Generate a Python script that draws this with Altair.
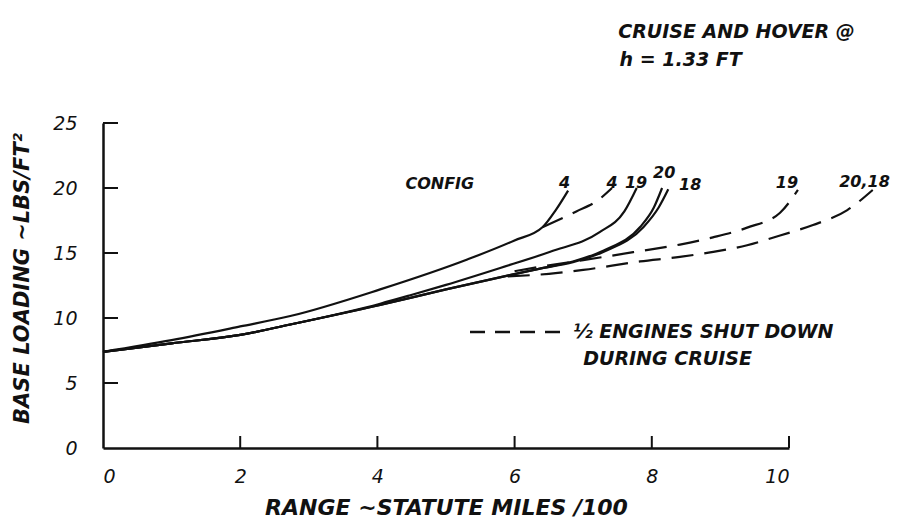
import altair as alt
import pandas as pd

# ---- data ----
x_ticks = [0, 2, 4, 6, 8, 10]
y_ticks = [0, 5, 10, 15, 20, 25]

c4_x = [0, 1.0, 2.0, 2.73, 4.04, 5.31, 5.99, 6.41, 6.6, 6.78]
c4_y = [7.4, 8.3, 9.35, 10.15, 12.2, 14.5, 15.95, 17.0, 18.3, 19.8]

c4d_x = [6.41, 6.9, 7.2, 7.42]
c4d_y = [17.0, 18.2, 19.0, 20.0]

c19_x = [0, 1.0, 2.0, 2.73, 4.04, 4.48, 5.0, 5.79, 6.52, 7.24, 7.6, 7.78]
c19_y = [7.4, 8.05, 8.7, 9.5, 11.1, 11.75, 12.55, 13.85, 15.1, 16.6, 18.2, 20.0]

c20_x = [0, 1.0, 2.0, 2.73, 4.04, 5.0, 5.93, 6.37, 6.85, 7.3, 7.83, 8.03, 8.15]
c20_y = [7.4, 8.05, 8.7, 9.5, 11.0, 12.2, 13.3, 13.8, 14.35, 15.2, 17.0, 18.5, 20.0]

c18_x = [0, 1.0, 2.0, 2.73, 4.04, 5.0, 5.93, 6.37, 6.85, 7.3, 7.88, 8.1, 8.24]
c18_y = [7.4, 8.05, 8.7, 9.5, 11.0, 12.2, 13.3, 13.8, 14.3, 15.1, 17.0, 18.5, 19.9]

c19d_x = [6.0, 6.5, 7.0, 7.83, 8.41, 8.89, 9.39, 9.87, 10.13]
c19d_y = [13.6, 14.05, 14.45, 15.15, 15.65, 16.2, 16.95, 18.1, 19.85]

c2018d_x = [5.9, 6.5, 7.0, 7.83, 8.41, 8.85, 9.39, 9.87, 10.35, 10.85, 11.22]
c2018d_y = [13.2, 13.4, 13.7, 14.35, 14.7, 15.05, 15.6, 16.35, 17.15, 18.3, 19.85]

curve_labels = ["CONFIG", "4", "4", "19", "20", "18", "19", "20,18"]
label_x = [4.91, 6.73, 7.42, 7.77, 8.18, 8.56, 9.97, 11.1]
label_y = [20.3, 20.4, 20.4, 20.4, 21.15, 20.2, 20.4, 20.45]

# ---- build tables ----
series = [
    ("4", "solid", c4_x, c4_y),
    ("19", "solid", c19_x, c19_y),
    ("20", "solid", c20_x, c20_y),
    ("18", "solid", c18_x, c18_y),
    ("4d", "dashed", c4d_x, c4d_y),
    ("19d", "dashed", c19d_x, c19d_y),
    ("2018d", "dashed", c2018d_x, c2018d_y),
]
rows = []
for name, style, xs, ys in series:
    for i, (xv, yv) in enumerate(zip(xs, ys)):
        rows.append({"series": name, "style": style, "x": xv, "y": yv, "order": i})
df = pd.DataFrame(rows)

FONT = "DejaVu Sans"
INK = "#111111"

xscale = alt.Scale(domain=[0, 10], nice=False, zero=False)
yscale = alt.Scale(domain=[0, 25], nice=False, zero=False)

xaxis = alt.Axis(
    values=x_ticks, title="RANGE ~STATUTE MILES /100", grid=False, tickSize=0,
    domainColor=INK, domainWidth=2.5, labelFont=FONT, labelFontSize=19,
    labelFontStyle="italic", labelColor=INK, labelPadding=19,
    titleFont=FONT, titleFontSize=22, titleFontStyle="italic", titleFontWeight="bold",
    titleColor=INK, titleY=59, titleBaseline="middle",
)
yaxis = alt.Axis(
    values=y_ticks, title="BASE LOADING ~LBS/FT²", grid=False, tickSize=0,
    domainColor=INK, domainWidth=2.5, labelFont=FONT, labelFontSize=19,
    labelFontStyle="italic", labelColor=INK, labelPadding=26,
    titleFont=FONT, titleFontSize=21, titleFontStyle="italic", titleFontWeight="bold",
    titleColor=INK, titleX=-81, titleY=155, titleAngle=270, titleAlign="center",
    titleBaseline="middle",
)

X = alt.X("x:Q", scale=xscale, axis=xaxis)
Y = alt.Y("y:Q", scale=yscale, axis=yaxis)

solid = alt.Chart(df).transform_filter(alt.datum.style == "solid").mark_line(
    color=INK, strokeWidth=2.2, interpolate="monotone"
).encode(x=X, y=Y, detail="series:N", order="order:Q")

dashed = alt.Chart(df).transform_filter(alt.datum.style == "dashed").mark_line(
    color=INK, strokeWidth=2.2, interpolate="monotone", strokeDash=[22, 11]
).encode(x=X, y=Y, detail="series:N", order="order:Q")

xt = pd.DataFrame({"x": x_ticks[1:]})
xtick_marks = alt.Chart(xt).mark_rule(color=INK, strokeWidth=2).encode(
    x=X, y=alt.value(325), y2=alt.value(313)
)
yt = pd.DataFrame({"y": y_ticks[1:]})
ytick_marks = alt.Chart(yt).mark_rule(color=INK, strokeWidth=2).encode(
    y=Y, x=alt.value(0), x2=alt.value(15)
)

lab = pd.DataFrame({"x": label_x, "y": label_y, "text": curve_labels})
lab_marks = alt.Chart(lab).mark_text(
    font=FONT, fontSize=16, fontStyle="italic", fontWeight="bold", color=INK,
    align="center", baseline="middle"
).encode(x=X, y=Y, text="text:N")

# legend for the dashed lines
leg_line = pd.DataFrame({"x": [5.35], "x2": [6.78], "y": [8.92]})
leg_rule = alt.Chart(leg_line).mark_rule(color=INK, strokeWidth=2.4, strokeDash=[15, 10]).encode(
    x=X, x2="x2:Q", y=Y
)
leg_txt = pd.DataFrame({
    "x": [6.85, 7.0],
    "y": [8.92, 6.85],
    "text": ["½ ENGINES SHUT DOWN", "DURING CRUISE"],
})
leg_text = alt.Chart(leg_txt).mark_text(
    font=FONT, fontSize=19, fontStyle="italic", fontWeight="bold", color=INK,
    align="left", baseline="middle"
).encode(x=X, y=Y, text="text:N")

head = pd.DataFrame({
    "x": [7.51, 7.53],
    "y": [32.0, 29.85],
    "text": ["CRUISE AND HOVER @", "h = 1.33 FT"],
})
head_text = alt.Chart(head).mark_text(
    font=FONT, fontSize=19, fontStyle="italic", fontWeight="bold", color=INK,
    align="left", baseline="middle"
).encode(x=X, y=Y, text="text:N")

chart = alt.layer(
    solid, dashed, xtick_marks, ytick_marks, lab_marks, leg_rule, leg_text, head_text
).properties(
    width=686, height=325,
    autosize=alt.AutoSizeParams(type="none"),
    padding={"left": 103, "top": 123, "right": 121, "bottom": 73},
    background="white",
).configure_view(stroke=None)

chart.save("out.html", embed_options={"renderer": "svg", "actions": False})
